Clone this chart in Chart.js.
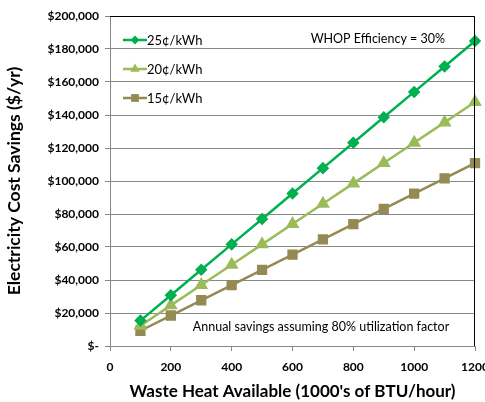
<!DOCTYPE html>
<html>
<head>
<meta charset="utf-8">
<script src="https://cdn.jsdelivr.net/npm/chart.js@4/dist/chart.umd.min.js"></script>
<style>
  html, body { margin: 0; padding: 0; background: #fff; }
  #wrap { width: 485px; height: 402px; }
</style>
</head>
<body>
<div id="wrap"><canvas id="chart" width="485" height="402"></canvas></div>
<script>
// data
const heatAvailable = [100, 200, 300, 400, 500, 600, 700, 800, 900, 1000, 1100, 1200];
const savings25 = [15400, 30800, 46200, 61600, 77000, 92400, 107800, 123200, 138600, 154000, 169400, 184800];
const savings20 = [12320, 24640, 36960, 49280, 61600, 73920, 86240, 98560, 110880, 123200, 135520, 147840];
const savings15 = [9240, 18480, 27720, 36960, 46200, 55440, 64680, 73920, 83160, 92400, 101640, 110880];
const seriesNames = ['25¢/kWh', '20¢/kWh', '15¢/kWh'];
const noteTop = 'WHOP Efficiency = 30%';
const noteBottom = 'Annual savings assuming 80% utilization factor';

const FONT = 'Lato, "Open Sans", sans-serif';
const colors = ['#00B050', '#9BBB59', '#948A54'];
const markers = ['rectRot', 'triangle', 'rect'];
const radii = [4.5, 5.5, 5.5];

function toPoints(ys) {
    return heatAvailable.map((x, i) => ({ x: x, y: ys[i] }));
}

const datasets = [savings25, savings20, savings15].map((ys, i) => ({
    label: seriesNames[i],
    data: toPoints(ys),
    borderColor: colors[i],
    backgroundColor: colors[i],
    borderWidth: 2.5,
    pointStyle: markers[i],
    pointRadius: radii[i],
    pointHoverRadius: radii[i],
    fill: false,
    tension: 0,
    clip: 8
}));

// legend, notes and plot frame drawn on the canvas
const extras = {
    id: 'extras',
    afterDraw(chart) {
        const ctx = chart.ctx;
        const area = chart.chartArea;
        ctx.save();
        // dark frame on top and right
        ctx.strokeStyle = '#000';
        ctx.lineWidth = 1;
        ctx.beginPath();
        ctx.moveTo(area.left, area.top + 0.5);
        ctx.lineTo(area.right - 0.5, area.top + 0.5);
        ctx.lineTo(area.right - 0.5, area.bottom);
        ctx.stroke();

        // legend
        ctx.font = '13px ' + FONT;
        ctx.textBaseline = 'middle';
        ctx.textAlign = 'left';
        datasets.forEach((ds, i) => {
            const y = area.top + 24 + i * 29;
            const x0 = area.left + 13;
            ctx.strokeStyle = ds.borderColor;
            ctx.lineWidth = 2.5;
            ctx.beginPath();
            ctx.moveTo(x0, y);
            ctx.lineTo(x0 + 24, y);
            ctx.stroke();
            ctx.fillStyle = ds.backgroundColor;
            Chart.helpers.drawPoint(ctx, { pointStyle: ds.pointStyle, radius: ds.pointRadius, rotation: 0, borderWidth: 0 }, x0 + 12, y);
            ctx.fillStyle = '#000';
            ctx.fillText(ds.label, x0 + 24, y + 1);
        });

        // notes
        ctx.font = '12.5px ' + FONT;
        ctx.fillStyle = '#000';
        ctx.textAlign = 'right';
        ctx.fillText(noteTop, area.right - 30, area.top + 23);
        ctx.textAlign = 'center';
        ctx.fillText(noteBottom, area.left + 211, area.bottom - 19);
        ctx.restore();
    }
};

const ctx = document.getElementById('chart').getContext('2d');
const chart = new Chart(ctx, {
    type: 'line',
    data: { datasets: datasets },
    options: {
        responsive: false,
        animation: false,
        layout: { padding: { top: 16, right: 0, left: 4, bottom: 0 } },
        plugins: {
            legend: { display: false },
            tooltip: { enabled: false }
        },
        scales: {
            x: {
                type: 'linear',
                min: 0,
                max: 1200,
                ticks: {
                    stepSize: 200,
                    color: '#000',
                    font: { family: FONT, size: 12, weight: 'bold' },
                    padding: 9,
                    maxRotation: 0,
                    callback: v => String(v)
                },
                grid: {
                    drawOnChartArea: false,
                    drawTicks: true,
                    tickLength: 5,
                    color: '#888'
                },
                border: { color: '#888', width: 1 },
                title: {
                    display: true,
                    text: "Waste Heat Available (1000's of BTU/hour)",
                    color: '#000',
                    font: { family: FONT, size: 17, weight: 'bold' },
                    padding: { top: 4, bottom: 0 }
                },
                afterFit(axis) {
                    axis.paddingRight = 10;
                    axis.height = 56;
                }
            },
            y: {
                min: 0,
                max: 200000,
                ticks: {
                    stepSize: 20000,
                    color: '#000',
                    font: { family: FONT, size: 12, weight: 'bold' },
                    padding: 6,
                    callback: v => v === 0 ? '$-' : '$' + v.toLocaleString('en-US')
                },
                grid: {
                    color: '#888',
                    tickLength: 5
                },
                border: { color: '#888', width: 1 },
                title: {
                    display: true,
                    text: 'Electricity Cost Savings ($/yr)',
                    color: '#000',
                    font: { family: FONT, size: 17.5, weight: 'bold' },
                    padding: { top: 0, bottom: 6 }
                },
                afterFit(axis) { axis.width = 106; }
            }
        }
    },
    plugins: [extras]
});
</script>
</body>
</html>
